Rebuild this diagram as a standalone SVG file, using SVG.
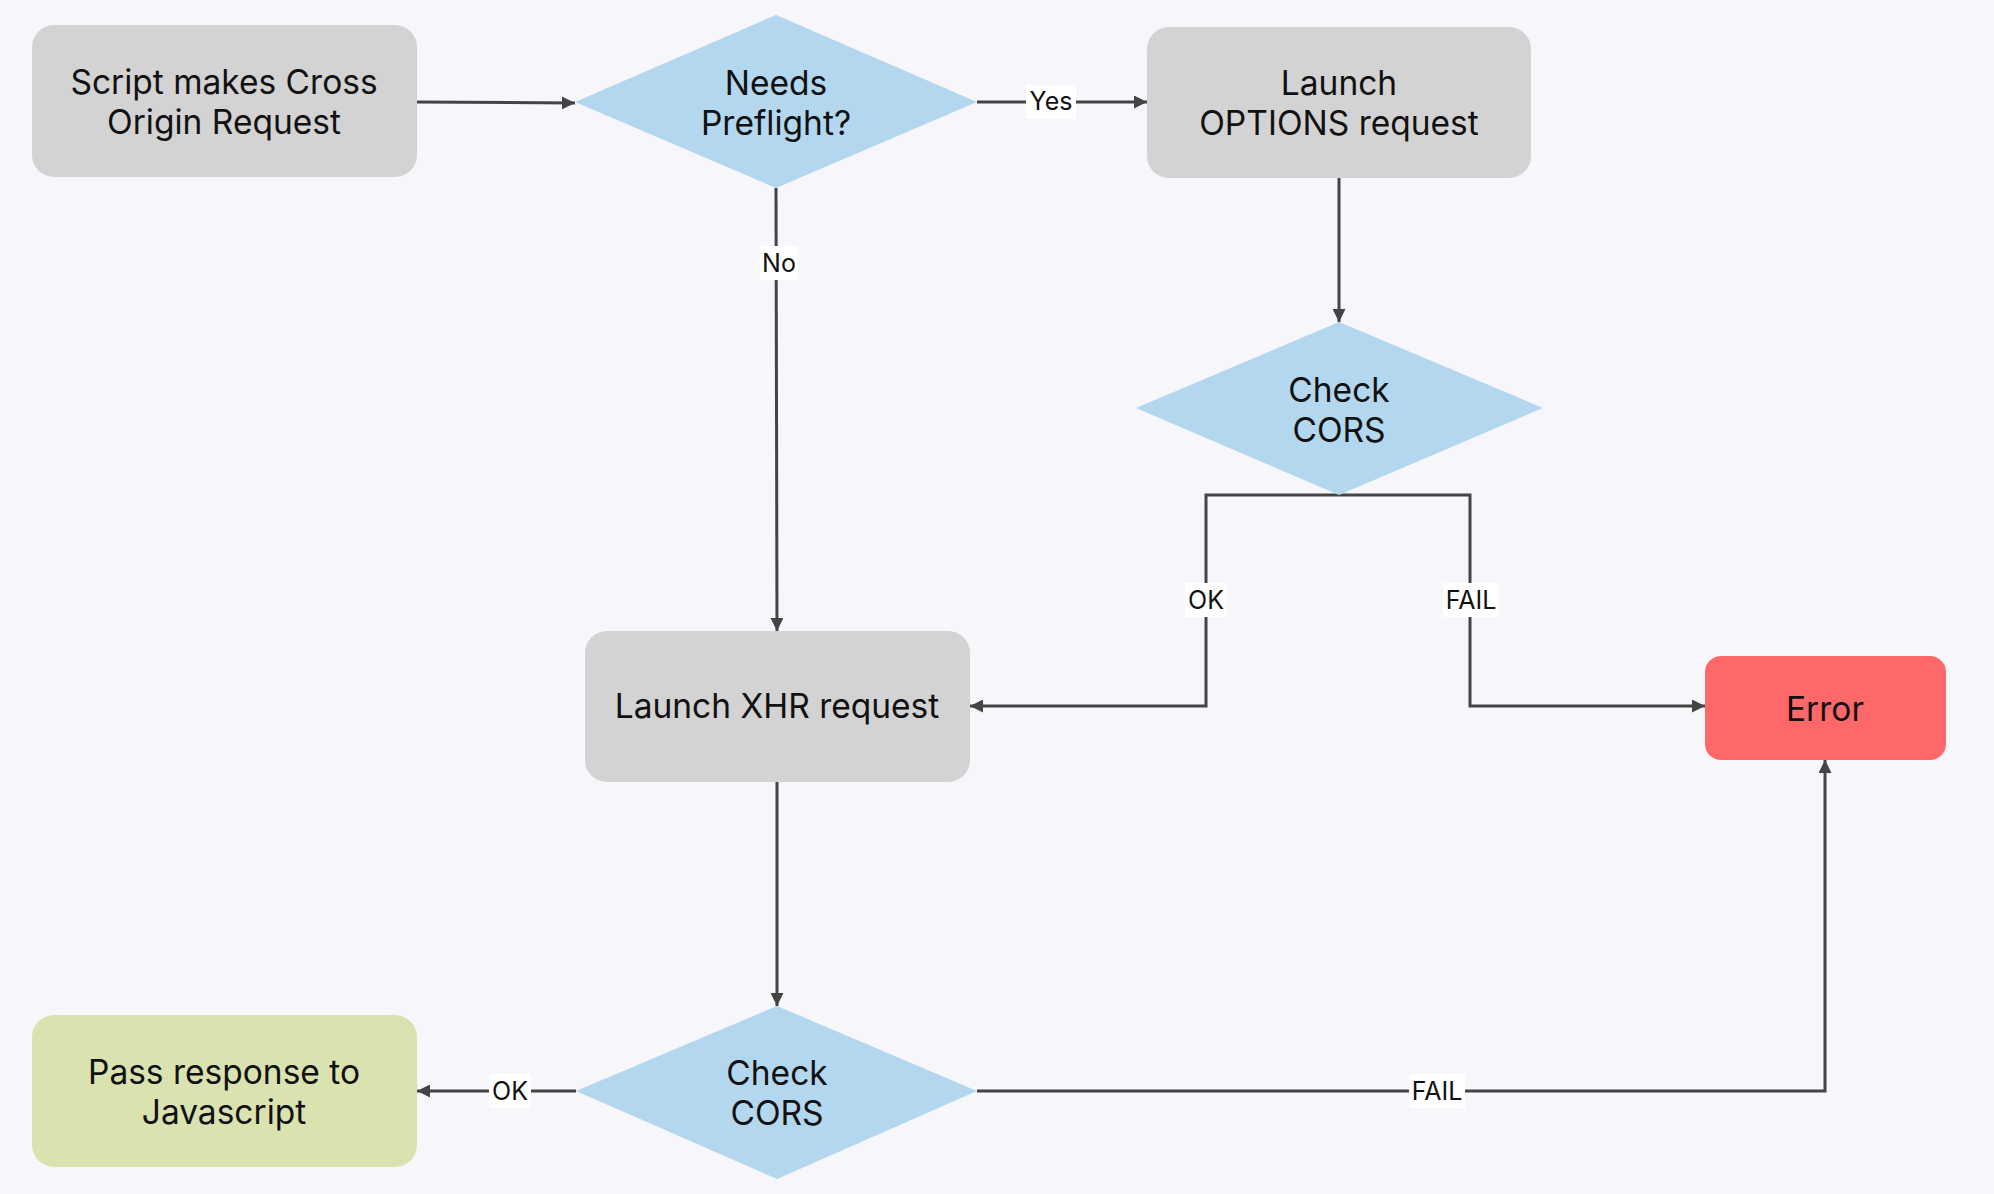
<svg xmlns="http://www.w3.org/2000/svg" width="1994" height="1194" viewBox="0 0 1994 1194">
<style>
.bg{fill:#f6f6fb}
.gray{fill:#d3d3d3}
.dia{fill:#b3d7ee}
.err{fill:#ff6868}
.ok{fill:#dae3b0}
.t{font-family:"Inter","Liberation Sans",sans-serif;font-size:33.5px;fill:#111;text-anchor:middle}
.lbl{font-family:"Inter","Liberation Sans",sans-serif;font-size:25px;fill:#111;text-anchor:middle}
.lb{fill:#ffffff}
.c{fill:none;stroke:#444;stroke-width:3}
</style>
<defs>
<marker id="ah" viewBox="0 0 10 10" refX="10" refY="5" markerWidth="13" markerHeight="13" markerUnits="userSpaceOnUse" orient="auto">
<path d="M0,0 L10,5 L0,10 z" fill="#444"/>
</marker>
</defs>
<rect class="bg" x="0" y="0" width="1994" height="1194"/>
<g id="connectors">
<path class="c" d="M417,102 L575,103" marker-end="url(#ah)"/>
<path class="c" d="M977,102 L1147,102" marker-end="url(#ah)"/>
<path class="c" d="M776,188 L777,631" marker-end="url(#ah)"/>
<path class="c" d="M1339,178 L1339,322" marker-end="url(#ah)"/>
<path class="c" d="M1339,495 L1206,495 L1206,706 L970,706" marker-end="url(#ah)"/>
<path class="c" d="M1339,495 L1470,495 L1470,706 L1705,706" marker-end="url(#ah)"/>
<path class="c" d="M777,782 L777,1006" marker-end="url(#ah)"/>
<path class="c" d="M576,1091 L417,1091" marker-end="url(#ah)"/>
<path class="c" d="M977,1091 L1825,1091 L1825,760" marker-end="url(#ah)"/>
<rect class="lb" x="1026" y="85" width="50" height="34"/>
<text class="lbl" x="1051" y="110">Yes</text>
<rect class="lb" x="760" y="246" width="38" height="34"/>
<text class="lbl" x="779" y="272">No</text>
<rect class="lb" x="1185" y="583" width="42" height="34"/>
<text class="lbl" x="1206" y="609">OK</text>
<rect class="lb" x="1443" y="583" width="56" height="34"/>
<text class="lbl" x="1471" y="609">FAIL</text>
<rect class="lb" x="489" y="1074" width="42" height="34"/>
<text class="lbl" x="510" y="1100">OK</text>
<rect class="lb" x="1409" y="1074" width="56" height="34"/>
<text class="lbl" x="1437" y="1100">FAIL</text>
</g>
<g id="n1">
<rect class="gray" x="32" y="25" width="385" height="152" rx="22"/>
<text class="t" x="224" y="94">Script makes Cross</text>
<text class="t" x="224" y="134">Origin Request</text>
</g>
<g id="n2">
<polygon class="dia" points="776,15 977,102 776,188 575,102"/>
<text class="t" x="776" y="95">Needs</text>
<text class="t" x="776" y="135">Preflight?</text>
</g>
<g id="n3">
<rect class="gray" x="1147" y="27" width="384" height="151" rx="22"/>
<text class="t" x="1339" y="95">Launch</text>
<text class="t" x="1339" y="135">OPTIONS request</text>
</g>
<g id="n4">
<polygon class="dia" points="1339,322 1543,408 1339,495 1136,408"/>
<text class="t" x="1339" y="402">Check</text>
<text class="t" x="1339" y="442">CORS</text>
</g>
<g id="n5">
<rect class="gray" x="585" y="631" width="385" height="151" rx="22"/>
<text class="t" x="777" y="718">Launch XHR request</text>
</g>
<g id="n6">
<rect class="err" x="1705" y="656" width="241" height="104" rx="16"/>
<text class="t" x="1825" y="721">Error</text>
</g>
<g id="n7">
<polygon class="dia" points="777,1006 977,1091 777,1179 576,1091"/>
<text class="t" x="777" y="1085">Check</text>
<text class="t" x="777" y="1125">CORS</text>
</g>
<g id="n8">
<rect class="ok" x="32" y="1015" width="385" height="152" rx="22"/>
<text class="t" x="224" y="1084">Pass response to</text>
<text class="t" x="224" y="1124">Javascript</text>
</g>
</svg>
